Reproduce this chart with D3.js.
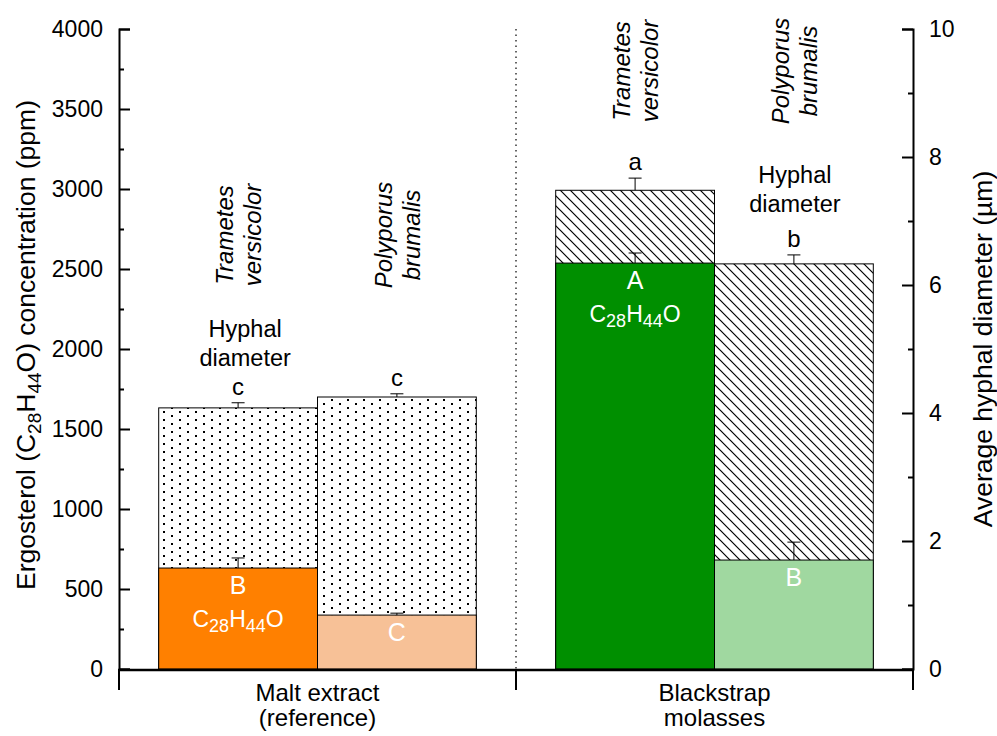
<!DOCTYPE html>
<html>
<head>
<meta charset="utf-8">
<script src="https://cdn.jsdelivr.net/npm/d3@7/dist/d3.min.js"></script>
<style>
  html, body { margin: 0; padding: 0; background: #fff; }
  svg { display: block; font-family: "Liberation Sans", Arial, sans-serif; }
</style>
</head>
<body>
<svg id="chart" width="997" height="736"></svg>
<script>
// Growth media (two-line category labels) and fungal species
const media = ["Malt extract (reference)", "Blackstrap molasses"];
const mediaLines = [["Malt extract", "(reference)"], ["Blackstrap", "molasses"]];
const species = ["Trametes versicolor", "Polyporus brumalis"];

// Ergosterol concentration (ppm), order: [malt Tv, malt Pb, molasses Tv, molasses Pb]
const ergosterol    = [631, 337, 2537, 681];
const ergosterolErr = [63, 12, 63, 112];
const ergosterolLetters = ["B", "C", "A", "B"];

// Average hyphal diameter (µm), same order
const hyphal    = [4.08, 4.25, 7.48, 6.33];
const hyphalErr = [0.08, 0.05, 0.19, 0.14];
const hyphalLetters = ["c", "c", "a", "b"];

const barColors = ["#FF8000", "#F7C197", "#008F00", "#A0D8A0"];

// Axis ticks
const leftTicks = [0, 500, 1000, 1500, 2000, 2500, 3000, 3500, 4000];
const leftMinor = [250, 750, 1250, 1750, 2250, 2750, 3250, 3750];
const rightTicks = [0, 2, 4, 6, 8, 10];
const rightMinor = [1, 3, 5, 7, 9];

const svg = d3.select("#chart");
const plot = { left: 119, right: 913, top: 29, bottom: 669 };

const xMedia = d3.scaleBand().domain(media).range([plot.left, plot.right]).padding(0);
const xSpecies = d3.scaleBand().domain(species).range([0, xMedia.bandwidth()])
  .paddingInner(0).paddingOuter(0.25);
const yErg = d3.scaleLinear().domain([0, 4000]).range([plot.bottom, plot.top]);
const yHyp = d3.scaleLinear().domain([0, 10]).range([plot.bottom, plot.top]);

const bars = [];
media.forEach((m, mi) => species.forEach((s, si) => {
  const i = mi * 2 + si;
  bars.push({
    i, m, s, mi, si,
    x: xMedia(m) + xSpecies(s),
    w: xSpecies.bandwidth(),
    erg: ergosterol[i], ergErr: ergosterolErr[i], ergLetter: ergosterolLetters[i],
    hyp: hyphal[i], hypErr: hyphalErr[i], hypLetter: hyphalLetters[i],
    color: barColors[i]
  });
}));

// Fill patterns: staggered dots for malt extract, diagonal hatching for molasses
const defs = svg.append("defs");
const dots = defs.append("pattern").attr("id", "dots")
  .attr("patternUnits", "userSpaceOnUse").attr("width", 16).attr("height", 8)
  .attr("x", 1).attr("y", 1);
dots.append("rect").attr("width", 16).attr("height", 8).attr("fill", "#fff");
dots.append("rect").attr("x", 2).attr("y", 2).attr("width", 2).attr("height", 2).attr("fill", "#000");
dots.append("rect").attr("x", 10).attr("y", 6).attr("width", 2).attr("height", 2).attr("fill", "#000");

const hatch = defs.append("pattern").attr("id", "hatch")
  .attr("patternUnits", "userSpaceOnUse").attr("width", 10).attr("height", 10);
hatch.append("rect").attr("width", 10).attr("height", 10).attr("fill", "#fff");
hatch.append("path").attr("d", "M0,0L10,10M-1,9L1,11M9,-1L11,1")
  .attr("stroke", "#000").attr("stroke-width", 1.2);

// Divider between media
svg.append("line")
  .attr("x1", xMedia(media[1])).attr("x2", xMedia(media[1]))
  .attr("y1", plot.top).attr("y2", plot.bottom)
  .attr("stroke", "#000").attr("stroke-width", 1.2).attr("stroke-dasharray", "1.5,4");

// Hyphal diameter bars (patterned, behind)
svg.append("g").selectAll("rect").data(bars).join("rect")
  .attr("x", d => d.x).attr("width", d => d.w)
  .attr("y", d => yHyp(d.hyp)).attr("height", d => yHyp(0) - yHyp(d.hyp))
  .attr("fill", d => d.mi === 0 ? "url(#dots)" : "url(#hatch)")
  .attr("stroke", "#000").attr("stroke-width", 1);

function errorBars(g, data, getY, getTop) {
  const e = g.selectAll("g").data(data).join("g");
  e.append("line")
    .attr("x1", d => d.x + d.w / 2).attr("x2", d => d.x + d.w / 2)
    .attr("y1", d => getY(d)).attr("y2", d => getTop(d))
    .attr("stroke", "#000").attr("stroke-width", 1);
  e.append("line")
    .attr("x1", d => d.x + d.w / 2 - 6.5).attr("x2", d => d.x + d.w / 2 + 6.5)
    .attr("y1", d => getTop(d)).attr("y2", d => getTop(d))
    .attr("stroke", "#000").attr("stroke-width", 1);
}

errorBars(svg.append("g"), bars, d => yHyp(d.hyp), d => yHyp(d.hyp + d.hypErr));

// Ergosterol bars (solid, in front)
svg.append("g").selectAll("rect").data(bars).join("rect")
  .attr("x", d => d.x).attr("width", d => d.w)
  .attr("y", d => yErg(d.erg)).attr("height", d => yErg(0) - yErg(d.erg))
  .attr("fill", d => d.color)
  .attr("stroke", "#000").attr("stroke-width", 1);

errorBars(svg.append("g"), bars, d => yErg(d.erg), d => yErg(d.erg + d.ergErr));

// Significance letters for hyphal diameter
svg.append("g").selectAll("text").data(bars).join("text")
  .attr("x", d => d.x + d.w / 2).attr("y", d => yHyp(d.hyp + d.hypErr) - 8)
  .attr("text-anchor", "middle").attr("font-size", 24).attr("fill", "#000")
  .text(d => d.hypLetter);

// Significance letters for ergosterol, inside the bars
svg.append("g").selectAll("text").data(bars).join("text")
  .attr("x", d => d.x + d.w / 2).attr("y", d => yErg(d.erg) + 26)
  .attr("text-anchor", "middle").attr("font-size", 25).attr("fill", "#fff")
  .text(d => d.ergLetter);

// Ergosterol formula inside the Trametes bars
function formula(sel, subSize) {
  sel.append("tspan").text("C");
  sel.append("tspan").attr("font-size", subSize).attr("dy", 5).text("28");
  sel.append("tspan").attr("dy", -5).text("H");
  sel.append("tspan").attr("font-size", subSize).attr("dy", 5).text("44");
  sel.append("tspan").attr("dy", -5).text("O");
}
bars.filter(d => d.si === 0).forEach(d => {
  const t = svg.append("text")
    .attr("x", d.x + d.w / 2).attr("y", yErg(d.erg) + 59)
    .attr("text-anchor", "middle").attr("font-size", 23).attr("fill", "#fff");
  formula(t, 18);
});

// Rotated species names above each bar
const speciesLabelY = [235, 71];
bars.forEach(d => {
  const cx = d.x + d.w / 2;
  const cy = speciesLabelY[d.mi];
  const words = d.s.split(" ");
  [-5, 23].forEach((off, k) => {
    svg.append("text")
      .attr("transform", `translate(${cx + off},${cy}) rotate(-90)`)
      .attr("text-anchor", "middle").attr("font-size", 24).attr("font-style", "italic")
      .attr("fill", "#000").text(words[k]);
  });
});

// "Hyphal diameter" annotations
const hyphalNote = [
  { x: xMedia(media[0]) + xSpecies(species[0]) + xSpecies.bandwidth() / 2 + 7, y: 337 },
  { x: xMedia(media[1]) + xSpecies(species[1]) + xSpecies.bandwidth() / 2 + 1, y: 183 }
];
hyphalNote.forEach(n => {
  svg.append("text").attr("x", n.x).attr("y", n.y).attr("text-anchor", "middle")
    .attr("font-size", 23.5).text("Hyphal");
  svg.append("text").attr("x", n.x).attr("y", n.y + 29).attr("text-anchor", "middle")
    .attr("font-size", 23.5).text("diameter");
});

// Left axis
const gl = svg.append("g").attr("transform", `translate(${plot.left},0)`);
gl.call(d3.axisLeft(yErg).tickValues(leftTicks).tickSize(-11).tickPadding(16).tickFormat(d3.format("d")));
gl.append("g").call(d3.axisLeft(yErg).tickValues(leftMinor).tickSize(-5).tickFormat(""));
gl.selectAll(".domain").attr("stroke-width", 2);
gl.selectAll(".tick line").attr("stroke-width", 2);
gl.selectAll(".tick text").attr("font-size", 23).attr("font-family", "Liberation Sans, Arial, sans-serif").attr("fill", "#000");
gl.selectAll(".domain").filter((d, i) => i > 0).remove();

// Right axis
const gr = svg.append("g").attr("transform", `translate(${plot.right},0)`);
gr.call(d3.axisRight(yHyp).tickValues(rightTicks).tickSize(-11).tickPadding(16).tickFormat(d3.format("d")));
gr.append("g").call(d3.axisRight(yHyp).tickValues(rightMinor).tickSize(-5).tickFormat(""));
gr.selectAll(".domain").attr("stroke-width", 2);
gr.selectAll(".tick line").attr("stroke-width", 2);
gr.selectAll(".tick text").attr("font-size", 23).attr("font-family", "Liberation Sans, Arial, sans-serif").attr("fill", "#000");
gr.selectAll(".domain").filter((d, i) => i > 0).remove();

// Bottom axis with group boundaries
const gb = svg.append("g").attr("transform", `translate(0,${plot.bottom + 1})`);
gb.append("line").attr("x1", plot.left - 1).attr("x2", plot.right + 1)
  .attr("stroke", "#000").attr("stroke-width", 2.5);
const bounds = [plot.left, xMedia(media[1]), plot.right];
gb.selectAll("line.b").data(bounds).join("line").attr("class", "b")
  .attr("x1", d => d).attr("x2", d => d).attr("y1", 0).attr("y2", 20)
  .attr("stroke", "#000").attr("stroke-width", 2);
media.forEach((m, mi) => {
  mediaLines[mi].forEach((line, k) => {
    gb.append("text").attr("x", xMedia(m) + xMedia.bandwidth() / 2).attr("y", 31 + k * 25)
      .attr("text-anchor", "middle").attr("font-size", 24).text(line);
  });
});

// Axis titles
const lt = svg.append("text")
  .attr("transform", `translate(35,345) rotate(-90)`)
  .attr("text-anchor", "middle").attr("font-size", 26.5);
lt.append("tspan").text("Ergosterol (C");
lt.append("tspan").attr("font-size", 19).attr("dy", 6).text("28");
lt.append("tspan").attr("dy", -6).text("H");
lt.append("tspan").attr("font-size", 19).attr("dy", 6).text("44");
lt.append("tspan").attr("dy", -6).text("O) concentration (ppm)");

svg.append("text")
  .attr("transform", `translate(992,349) rotate(-90)`)
  .attr("text-anchor", "middle").attr("font-size", 26.5)
  .text("Average hyphal diameter (\u00B5m)");
</script>
</body>
</html>
